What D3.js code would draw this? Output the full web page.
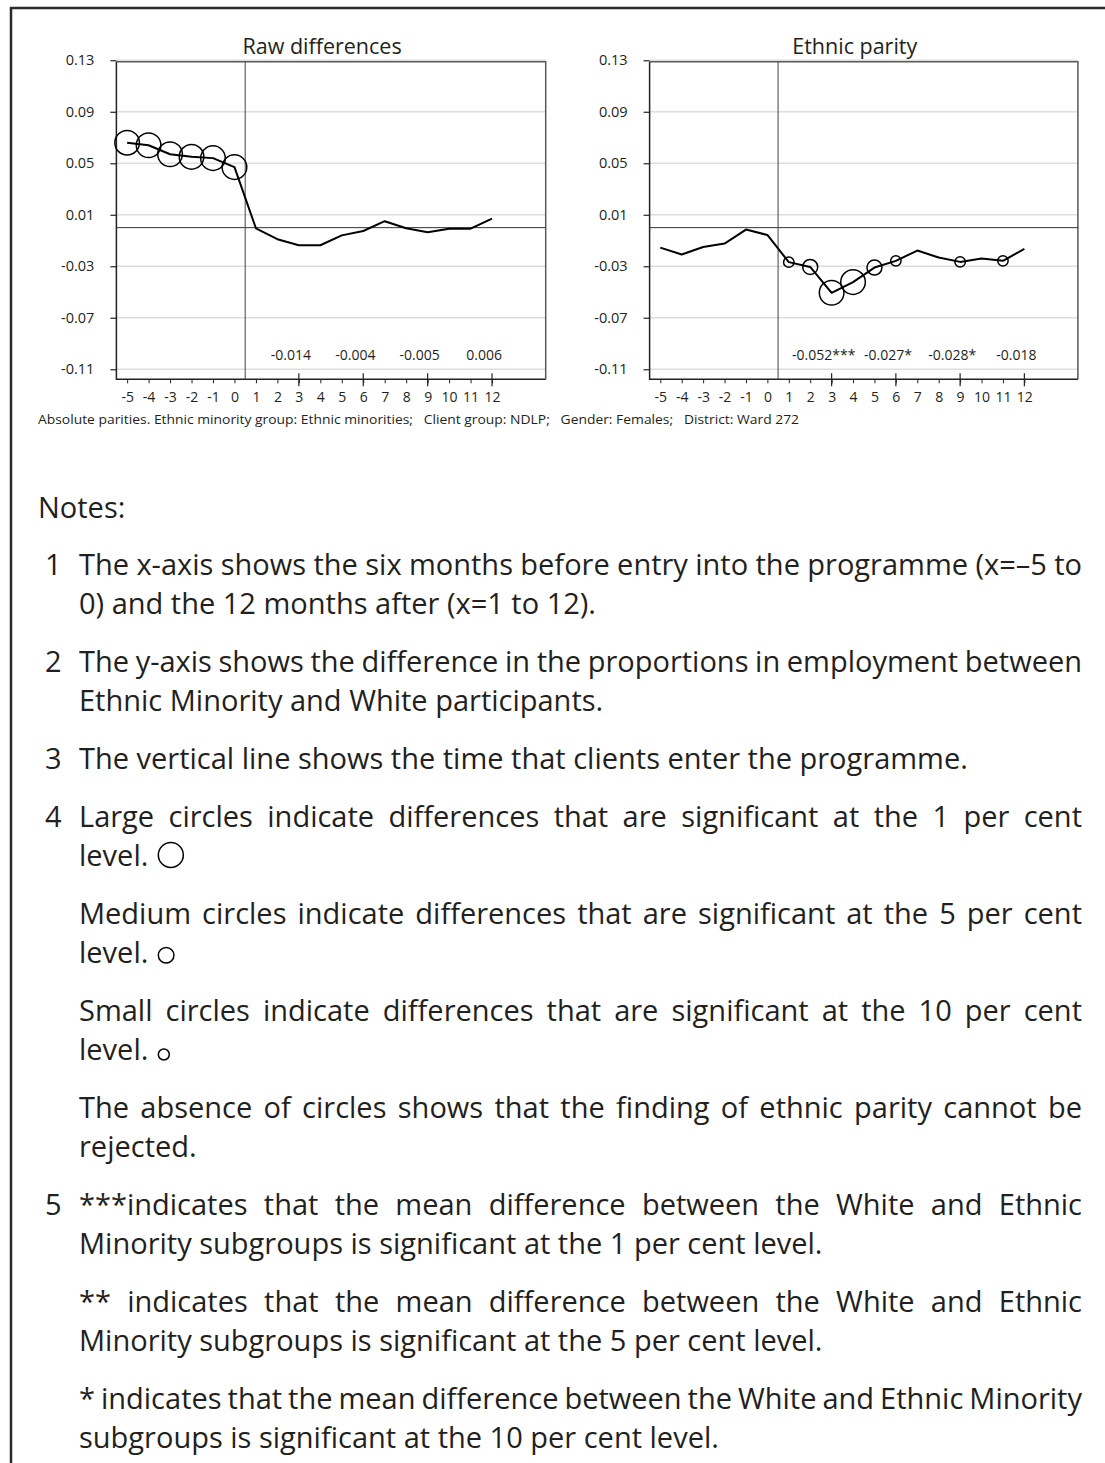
<!DOCTYPE html>
<html>
<head>
<meta charset="utf-8">
<script src="https://cdnjs.cloudflare.com/ajax/libs/d3/7.8.5/d3.min.js"></script>
<style>
body { margin: 0; background: #fff; }
svg { display: block; }
text { font-family: "Open Sans", sans-serif; fill: #231f20; }
</style>
</head>
<body>
<svg id="viz"></svg>
<script>
let width = 1105;
let height = 1463;

// months relative to programme entry
const months = [-5, -4, -3, -2, -1, 0, 1, 2, 3, 4, 5, 6, 7, 8, 9, 10, 11, 12];

// raw differences
const rawDiff = [0.066, 0.064, 0.057, 0.055, 0.054, 0.047, -0.0005, -0.009, -0.0137, -0.0137, -0.006, -0.0026, 0.005, -0.0005, -0.0036, -0.0008, -0.0008, 0.007];
// significance: 3 = 1%, 2 = 5%, 1 = 10%, 0 = none
const rawSig = [3, 3, 3, 3, 3, 3, 0, 0, 0, 0, 0, 0, 0, 0, 0, 0, 0, 0];

// ethnic parity (right panel)
const parityDiff = [-0.0155, -0.0209, -0.015, -0.0124, -0.0015, -0.0057, -0.0268, -0.0305, -0.0506, -0.0423, -0.031, -0.0258, -0.0178, -0.0232, -0.0266, -0.024, -0.0258, -0.0165];
const paritySig = [0, 0, 0, 0, 0, 0, 1, 2, 3, 3, 2, 1, 0, 0, 1, 0, 1, 0];

// quarterly means printed at the bottom of each panel
const periodEnds = [3, 6, 9, 12];
const rawMeans = ["-0.014", "-0.004", "-0.005", "0.006"];
const parityMeans = ["-0.052***", "-0.027*", "-0.028*", "-0.018"];

const yTicks = [0.13, 0.09, 0.05, 0.01, -0.03, -0.07, -0.11];
const majorXTicks = [3, 6, 9, 12];

const footerText = "Absolute parities. Ethnic minority group: Ethnic minorities;   Client group: NDLP;   Gender: Females;   District: Ward 272";

const notes = [
    { num: "1", lines: ["The x-axis shows the six months before entry into the programme (x=\u20135 to", "0) and the 12 months after (x=1 to 12)."] },
    { num: "2", lines: ["The y-axis shows the difference in the proportions in employment between", "Ethnic Minority and White participants."] },
    { num: "3", lines: ["The vertical line shows the time that clients enter the programme."] },
    { num: "4", lines: ["Large circles indicate differences that are significant at the 1 per cent", "level."], circle: 3 },
    { num: "", lines: ["Medium circles indicate differences that are significant at the 5 per cent", "level."], circle: 2 },
    { num: "", lines: ["Small circles indicate differences that are significant at the 10 per cent", "level."], circle: 1 },
    { num: "", lines: ["The absence of circles shows that the finding of ethnic parity cannot be", "rejected."] },
    { num: "5", lines: ["***indicates that the mean difference between the White and Ethnic", "Minority subgroups is significant at the 1 per cent level."] },
    { num: "", lines: ["** indicates that the mean difference between the White and Ethnic", "Minority subgroups is significant at the 5 per cent level."] },
    { num: "", lines: ["* indicates that the mean difference between the White and Ethnic Minority", "subgroups is significant at the 10 per cent level."] }
];

let circleRadius = { 3: 12.3, 2: 7.5, 1: 5.2 };

let svg = d3.select("#viz")
    .attr("width", width)
    .attr("height", height);

// outer frame (top and left only)
svg.append("line").attr("x1", 10).attr("x2", width).attr("y1", 8).attr("y2", 8)
    .attr("stroke", "#2b2b2b").attr("stroke-width", 2.5);
svg.append("line").attr("x1", 11).attr("x2", 11).attr("y1", 7).attr("y2", height)
    .attr("stroke", "#2b2b2b").attr("stroke-width", 2.5);

let plotTop = 61.7;
let plotBottom = 379.3;

let y = d3.scaleLinear()
    .domain([-0.1178, 0.1289])
    .range([plotBottom, plotTop]);

function drawPanel(title, values, sig, means, left, right) {
    let g = svg.append("g");
    let x = d3.scaleLinear()
        .domain([-5.5, 14.5])
        .range([left, right]);

    // gridlines
    g.selectAll(".grid")
        .data(yTicks)
        .enter()
        .append("line")
        .attr("x1", left).attr("x2", right)
        .attr("y1", d => y(d)).attr("y2", d => y(d))
        .attr("stroke", "#dedede")
        .attr("stroke-width", 1.5);

    // box
    g.append("path")
        .attr("d", `M${left},${plotTop}H${right}V${plotBottom}`)
        .attr("fill", "none").attr("stroke", "#5a5a5a").attr("stroke-width", 1.5);
    g.append("path")
        .attr("d", `M${left},${plotTop}V${plotBottom}H${right}`)
        .attr("fill", "none").attr("stroke", "#222").attr("stroke-width", 1.5);

    // zero line and entry line
    g.append("line")
        .attr("x1", left).attr("x2", right)
        .attr("y1", y(0)).attr("y2", y(0))
        .attr("stroke", "#333").attr("stroke-width", 1);
    g.append("line")
        .attr("x1", x(0.5)).attr("x2", x(0.5))
        .attr("y1", plotTop).attr("y2", plotBottom)
        .attr("stroke", "#444").attr("stroke-width", 1);

    // y axis
    let yAxis = g.append("g")
        .attr("transform", `translate(${left},0)`)
        .call(d3.axisLeft(y).tickValues(yTicks).tickSize(6).tickPadding(16).tickFormat(d => d.toFixed(2)));
    yAxis.select(".domain").remove();
    yAxis.selectAll("line").attr("stroke", "#222").attr("stroke-width", 1.2);
    yAxis.selectAll("text").attr("font-size", 14.5).attr("font-family", "Open Sans").attr("fill", "#231f20");

    // x axis
    let xAxis = g.append("g")
        .attr("transform", `translate(0,${plotBottom})`)
        .call(d3.axisBottom(x).tickValues(months).tickSize(4).tickPadding(9).tickFormat(d => String(d)));
    xAxis.select(".domain").remove();
    xAxis.selectAll("line").attr("stroke", "#222").attr("stroke-width", 1);
    xAxis.selectAll("text").attr("font-size", 14).attr("font-family", "Open Sans").attr("fill", "#231f20");

    g.selectAll(".major")
        .data(majorXTicks)
        .enter()
        .append("line")
        .attr("x1", d => x(d)).attr("x2", d => x(d))
        .attr("y1", plotBottom - 6).attr("y2", plotBottom + 7)
        .attr("stroke", "#222").attr("stroke-width", 1.2);

    // series
    let line = d3.line()
        .x((d, i) => x(months[i]))
        .y(d => y(d));
    g.append("path")
        .datum(values)
        .attr("d", line)
        .attr("fill", "none")
        .attr("stroke", "#000")
        .attr("stroke-width", 2)
        .attr("stroke-linejoin", "round");

    g.selectAll(".sig")
        .data(months.filter((m, i) => sig[i] > 0))
        .enter()
        .append("circle")
        .attr("cx", d => x(d))
        .attr("cy", d => y(values[months.indexOf(d)]))
        .attr("r", d => circleRadius[sig[months.indexOf(d)]])
        .attr("fill", "none")
        .attr("stroke", "#000")
        .attr("stroke-width", 1.5);

    // period means
    g.selectAll(".mean")
        .data(means)
        .enter()
        .append("text")
        .attr("x", (d, i) => x(periodEnds[i] - 0.37))
        .attr("y", 360)
        .attr("text-anchor", "middle")
        .attr("font-size", 14)
        .text(d => d);

    // title
    g.append("text")
        .attr("x", (left + right) / 2 - 9)
        .attr("y", 54)
        .attr("text-anchor", "middle")
        .attr("font-size", 21.5)
        .text(title);
}

drawPanel("Raw differences", rawDiff, rawSig, rawMeans, 116.4, 545.7);
drawPanel("Ethnic parity", parityDiff, paritySig, parityMeans, 649.6, 1077.9);

// footer line under the charts
svg.append("text")
    .attr("x", 38)
    .attr("y", 424)
    .attr("font-size", 12.5)
    .attr("textLength", 761)
    .attr("lengthAdjust", "spacingAndGlyphs")
    .style("white-space", "pre")
    .text(footerText);

// notes
let noteFont = 29;
let textLeft = 79;
let textRight = 1082;
let lineStep = 39;
let paraStep = 58;

let notesG = svg.append("g").attr("font-size", noteFont);

function measure(str) {
    let t = notesG.append("text").style("white-space", "pre").text(str);
    let w = t.node().getComputedTextLength();
    t.remove();
    return w;
}

// one <text> per line; justified lines get one tspan per word
function drawLine(str, xStart, yBase, justify) {
    let t = notesG.append("text").attr("y", yBase);
    let words = str.split(" ");
    if (!justify || words.length < 2) {
        t.attr("x", xStart).text(str);
        return xStart + t.node().getComputedTextLength();
    }
    let widths = words.map(measure);
    let gap = (textRight - xStart - d3.sum(widths)) / (words.length - 1);
    let cx = xStart;
    words.forEach((w, i) => {
        t.append("tspan").attr("x", cx).text(w);
        cx += widths[i] + gap;
    });
    return textRight;
}

let yBase = 518;
drawLine("Notes:", 38, yBase, false);
yBase = 575;
notes.forEach((p, pi) => {
    if (pi > 0) yBase += paraStep;
    if (p.num) drawLine(p.num, 45, yBase, false);
    p.lines.forEach((ln, li) => {
        if (li > 0) yBase += lineStep;
        let last = li === p.lines.length - 1;
        let endX = drawLine(ln, textLeft, yBase, !last);
        if (last && p.circle) {
            let r = circleRadius[p.circle] + (p.circle === 3 ? 0.2 : 0.3);
            notesG.append("circle")
                .attr("cx", endX + 10 + r)
                .attr("cy", yBase - Math.min(r, 11))
                .attr("r", r)
                .attr("fill", "none")
                .attr("stroke", "#000")
                .attr("stroke-width", 1.5);
        }
    });
});
</script>
</body>
</html>
